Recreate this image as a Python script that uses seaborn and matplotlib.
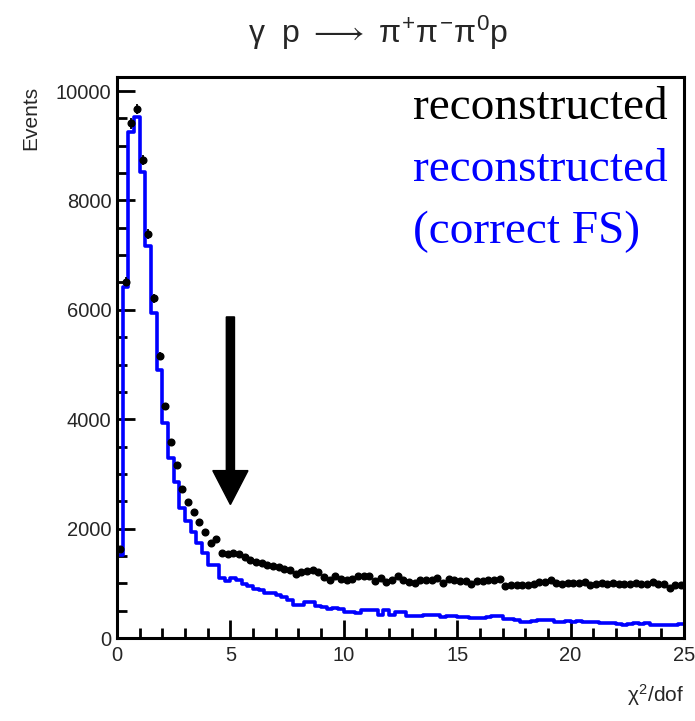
import numpy as np
import pandas as pd
import matplotlib
matplotlib.use('Agg')
import matplotlib.pyplot as plt
from matplotlib.ticker import MultipleLocator
import seaborn as sns

# chi2/dof histogram, 100 bins of width 0.25 on [0, 25]
bin_edges = np.linspace(0, 25, 101)
bin_centers = 0.5 * (bin_edges[:-1] + bin_edges[1:])

# all reconstructed events (black points)
reco_all = [
    1630, 6515, 9410, 9670, 8740, 7385, 6210, 5155, 4240, 3580,
    3160, 2720, 2490, 2300, 2115, 1945, 1745, 1810, 1560, 1530,
    1560, 1530, 1480, 1430, 1390, 1370, 1340, 1320, 1290, 1270,
    1245, 1170, 1210, 1230, 1240, 1200, 1120, 1060, 1130, 1080,
    1060, 1070, 1130, 1135, 1130, 1050, 1090, 1020, 1060, 1130,
    1060, 1020, 1000, 1060, 1055, 1060, 1090, 1000, 1070, 1065,
    1040, 1035, 990, 1050, 1050, 1055, 1060, 1070, 950, 960,
    965, 970, 975, 985, 1030, 1030, 1060, 1010, 995, 1000,
    1010, 1000, 1020, 960, 980, 1000, 990, 1000, 995, 985,
    990, 1010, 990, 980, 1030, 990, 985, 920, 970, 975,
]

# reconstructed with correct final state (blue histogram)
reco_correct = [
    1520, 6420, 9255, 9530, 8525, 7165, 5935, 4900, 3925, 3285,
    2850, 2370, 2140, 1945, 1730, 1550, 1335, 1335, 1100, 1050,
    1090, 1060, 990, 950, 900, 880, 830, 820, 780, 755,
    700, 610, 600, 665, 660, 590, 560, 525, 540, 530,
    470, 470, 465, 510, 512, 512, 420, 510, 420, 470,
    470, 410, 410, 405, 420, 420, 420, 390, 410, 410,
    385, 380, 370, 365, 370, 380, 400, 395, 340, 340,
    320, 300, 300, 310, 330, 330, 325, 300, 300, 310,
    300, 305, 300, 295, 300, 270, 275, 270, 265, 245,
    250, 270, 265, 270, 245, 240, 245, 240, 235, 250,
]

df = pd.DataFrame({'chi2': bin_centers, 'correct': reco_correct, 'all': reco_all})

sns.set_style('ticks')
plt.rcParams['font.family'] = ['Liberation Sans', 'DejaVu Sans']
plt.rcParams['mathtext.fontset'] = 'custom'
plt.rcParams['mathtext.rm'] = 'Liberation Sans'
plt.rcParams['mathtext.it'] = 'Liberation Sans'
plt.rcParams['mathtext.sf'] = 'Liberation Sans'

fig = plt.figure(figsize=(6.95, 7.21), dpi=100)
ax = fig.add_axes([117 / 695, 1 - 638 / 721, 567 / 695, 561 / 721])

sns.histplot(data=df, x='chi2', weights='correct', bins=list(bin_edges), element='step',
             fill=False, color='#0000ff', linewidth=2.6, ax=ax)
ax.errorbar(df['chi2'], df['all'], yerr=np.sqrt(df['all']), fmt='o', color='black',
            markersize=4.8, elinewidth=1.3, capsize=0, zorder=3)

# chi2 cut arrow
ax.arrow(5, 5870, 0, -3430, width=0.36, head_width=1.55, head_length=620,
         length_includes_head=True, color='black', zorder=4)

ax.set_xlim(0, 25)
ax.set_ylim(0, 10256)
ax.set_xlabel('')
ax.set_ylabel('')

for side in ['left', 'bottom', 'top', 'right']:
    ax.spines[side].set_linewidth(2.2)
    ax.spines[side].set_color('black')

ax.xaxis.set_major_locator(MultipleLocator(5))
ax.xaxis.set_minor_locator(MultipleLocator(1))
ax.yaxis.set_major_locator(MultipleLocator(2000))
ax.yaxis.set_minor_locator(MultipleLocator(500))
ax.tick_params(which='both', direction='in', width=2, labelsize=14.5, color='black')
ax.tick_params(which='major', length=13)
ax.tick_params(which='minor', length=7)
ax.tick_params(axis='x', pad=6)
ax.tick_params(axis='y', pad=4)

ax.text(13.05, 9700, 'reconstructed', color='black', family='Liberation Serif',
        fontsize=34, ha='left', va='center')
ax.text(13.05, 8560, 'reconstructed', color='#0000ff', family='Liberation Serif',
        fontsize=34, ha='left', va='center')
ax.text(13.05, 7420, '(correct FS)', color='#0000ff', family='Liberation Serif',
        fontsize=34, ha='left', va='center')

fig.text(378 / 695, 1 - 33 / 721, r'$\gamma\ \ p\ \longrightarrow\ \pi^{+}\pi^{-}\pi^{0}p$',
         ha='center', va='center', fontsize=23)
fig.text(31 / 695, 1 - 86 / 721, 'Events', rotation=90, ha='center', va='top', fontsize=15)
fig.text(684 / 695, 1 - 695 / 721, r'$\chi^{2}$/dof', ha='right', va='center', fontsize=15)

fig.savefig('out.png', dpi=100)
